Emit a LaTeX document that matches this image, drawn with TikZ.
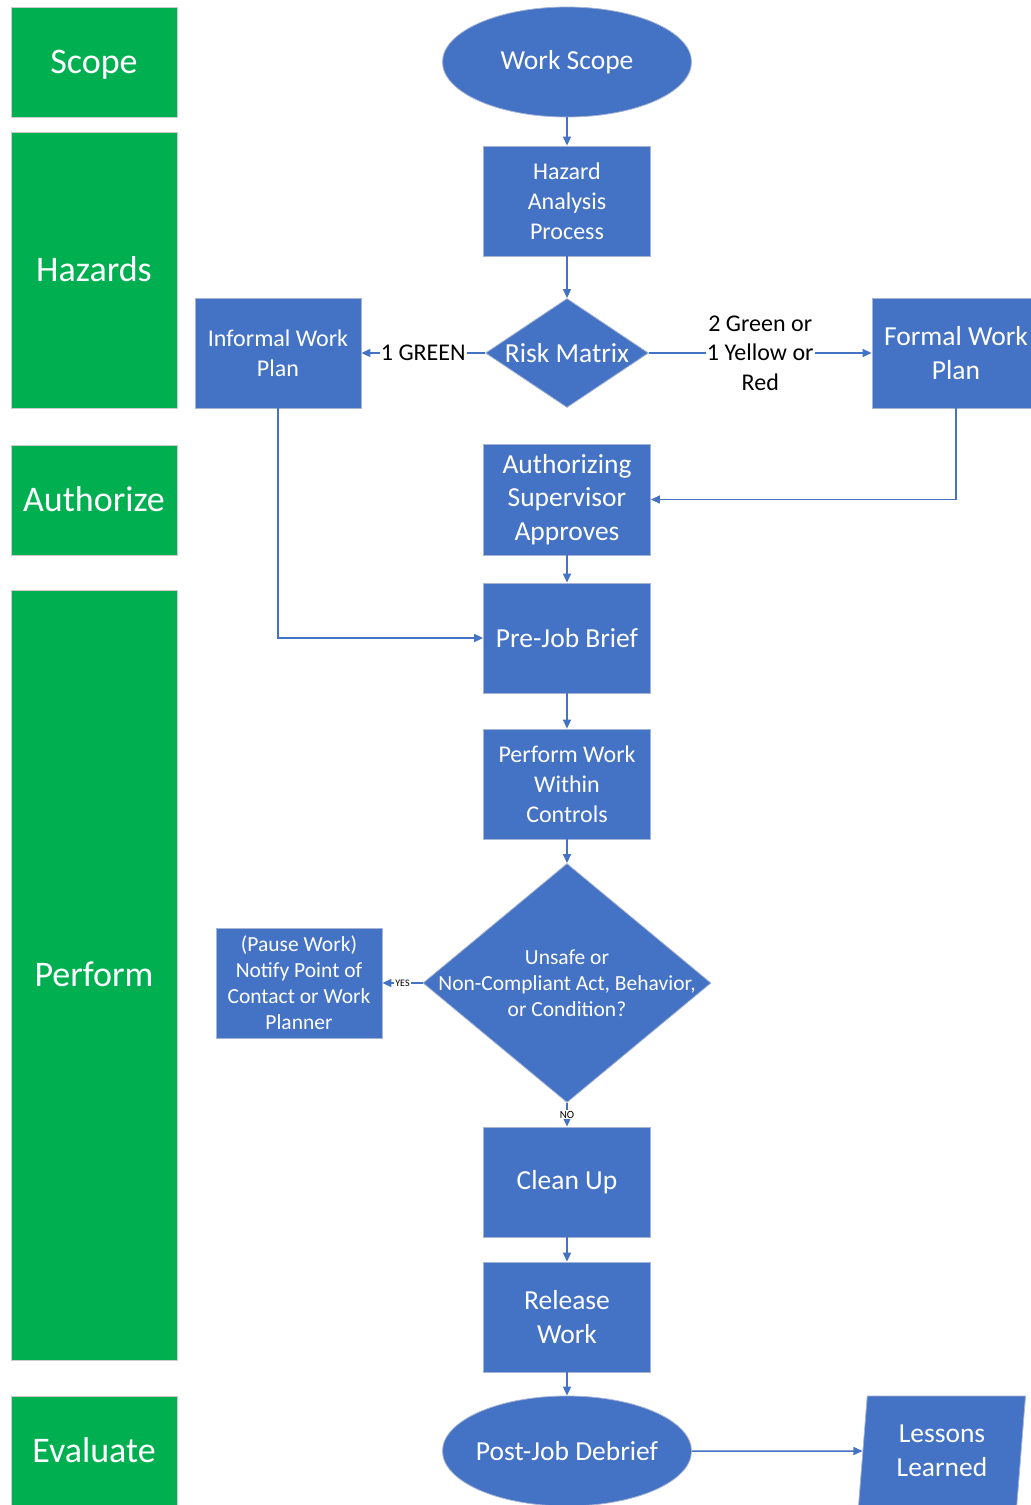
\documentclass[tikz,border=0pt]{standalone}
\usepackage{fontspec}
\setmainfont{Carlito}
\usepackage{tikz}
\usetikzlibrary{arrows.meta,positioning,shapes.geometric}
\definecolor{laneGreen}{RGB}{0,176,80}
\definecolor{flowBlue}{RGB}{68,114,196}
\definecolor{flowEdge}{RGB}{165,180,212}

\begin{document}
\begin{tikzpicture}[x=1pt, y=-1pt,
    lane/.style={rectangle, fill=laneGreen, draw=black!20, line width=1pt, minimum width=166pt, text height=23pt, text depth=0pt, text=white, font=\fontsize{36}{44}\selectfont},
    box/.style={rectangle, fill=flowBlue, draw=flowEdge, line width=0.8pt, minimum width=167pt, minimum height=110pt, inner sep=2pt, text=white, align=center, font=\fontsize{27.5}{33.5}\selectfont},
    oval/.style={box, ellipse, minimum width=249pt, inner sep=0pt, inner xsep=-8pt},
    decision/.style={diamond, fill=flowBlue, draw=flowEdge, line width=0.8pt, inner sep=0pt},
    flow/.style={draw=flowBlue, line width=1.5pt, -{Triangle[length=9pt,width=8pt]}},
    lbl/.style={fill=white, inner sep=1pt, align=center, font=\fontsize{24}{29.5}\selectfont}]
\path[use as bounding box] (0,0) rectangle (1031,1505);
\clip (0,0) rectangle (1031,1505);
\fill[white] (0,0) rectangle (1031,1505);

% phase lanes
\foreach \name/\txt/\y/\h in {scope/Scope/62/110, hazards/Hazards/270/276, authorize/Authorize/500/110, perform/Perform/975/770, evaluate/Evaluate/1451/110}
    \node[lane, minimum height=\h pt] (lane-\name) at (94,\y) {\txt};

% main flow
\node[oval] (wscope) at (567,62) {Work Scope};
\node[box, font=\fontsize{24}{30}\selectfont] (hazard) at (567,201) {Hazard\\Analysis\\Process};
\node[decision, minimum width=163pt, minimum height=109pt] (risk) at (567,353) {};
\node[text=white, font=\fontsize{27.5}{33.5}\selectfont] (risk-txt) at (risk) {Risk Matrix};
\node[box, minimum width=166pt, font=\fontsize{24}{29.5}\selectfont] (informal) at (278,353) {Informal Work\\Plan};
\node[box, minimum width=168pt] (formal) at (956,353) {Formal Work\\Plan};
\node[box, minimum height=111pt] (approve) at (567,499.5) {Authorizing\\Supervisor\\Approves};
\node[box] (brief) at (567,638) {Pre-Job Brief};
\node[box, font=\fontsize{24}{30}\selectfont] (perform) at (567,784) {Perform Work\\Within\\Controls};
\node[decision, minimum width=288pt, minimum height=239pt] (unsafe) at (567,983) {};
\node[text=white, align=center, font=\fontsize{21.5}{26}\selectfont] (unsafe-txt) at (unsafe) {Unsafe or\\Non-Compliant Act, Behavior,\\or Condition?};
\node[box, minimum width=166pt, font=\fontsize{21.5}{26}\selectfont] (pause) at (299,983) {(Pause Work)\\Notify Point of\\Contact or Work\\Planner};
\node[box] (cleanup) at (567,1182) {Clean Up};
\node[box] (release) at (567,1317) {Release\\Work};
\node[oval] (debrief) at (567,1451) {Post-Job Debrief};
\node[box, trapezium, trapezium left angle=81, trapezium right angle=99, trapezium stretches body, minimum width=167pt] (lessons) at (942,1451) {Lessons\\Learned};

% connectors
\draw[flow] (wscope) -- (hazard);
\draw[flow] (hazard) -- (risk);
\draw[flow] (risk) -- node[lbl] {1 GREEN} (informal);
\draw[flow] (risk) -- node[lbl] {2 Green or\\1 Yellow or\\Red} (formal);
\draw[flow] (formal.south) |- (approve.east);
\draw[flow] (approve) -- (brief);
\draw[flow] (informal.south) |- (brief.west);
\draw[flow] (brief) -- (perform);
\draw[flow] (perform) -- (unsafe);
\draw[flow] (unsafe) -- node[lbl, font=\fontsize{10}{12}\selectfont] {YES} (pause);
\draw[flow] (unsafe) -- node[lbl, font=\fontsize{11}{13}\selectfont] {NO} (cleanup);
\draw[flow] (cleanup) -- (release);
\draw[flow] (release) -- (debrief);
\draw[flow] (debrief) -- (lessons);
\end{tikzpicture}
\end{document}
